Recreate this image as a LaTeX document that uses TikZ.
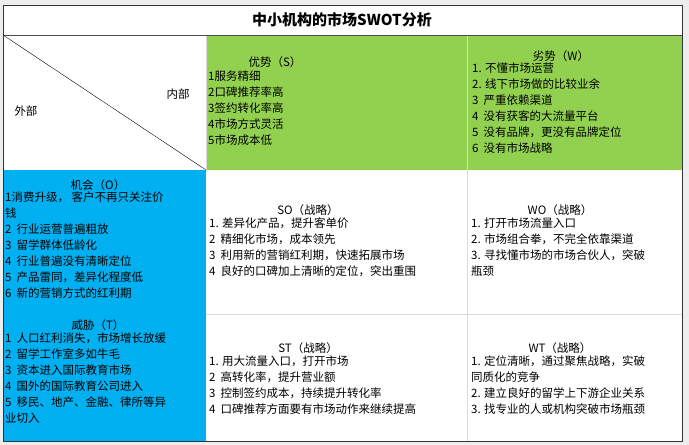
\documentclass[tikz,border=0pt]{standalone}
\usepackage{fontspec}
\setmainfont{Noto Sans CJK SC}
\definecolor{grn}{HTML}{92D050}
\definecolor{blu}{HTML}{00B0F0}
\definecolor{bg}{HTML}{EDEDED}
\definecolor{gl}{HTML}{D9D9D9}
\begin{document}
\begin{tikzpicture}[x=1pt,y=-1pt,
  tx/.style={anchor=north west,inner sep=0pt,align=left,font=\fontsize{11.5}{16}\selectfont},
  tt/.style={anchor=center,inner sep=0pt,font=\fontsize{11.5}{16}\selectfont}]
\fill[bg] (0,0) rectangle (689,445);
\useasboundingbox (0,0) rectangle (689,445);
\fill[white] (3,5) rectangle (682,441);
\fill[grn] (206,35) rectangle (682,170);
\fill[blu] (3,170) rectangle (206,441);
\draw[gl] (467,35) -- (467,441);
\draw[gl] (206,314) -- (682,314);
\draw[gl] (206,35) -- (206,170);
\draw[black!70] (3,35) -- (682,35);
\draw[black] (3,35) -- (206,170);
\draw[black!80,line width=0.8pt] (3,5) rectangle (682,441);
\node[font=\fontsize{15}{18}\selectfont\bfseries] (title) at (342,20) {中小机构的市场SWOT分析};
\node[tt] (nei) at (178,94) {内部};
\node[tt] (wai) at (26,111) {外部};
\node[tt] (st) at (275,62) {优势（S）};
\node[tx] (sl) at (208,71) {1服务精细\\2口碑推荐率高\\3签约转化率高\\4市场方式灵活\\5市场成本低};
\node[tt] (wt) at (561,56) {劣势（W）};
\node[tx] (wl) at (472,63) {1. 不懂市场运营\\2. 线下市场做的比较业余\\3\ \ 严重依赖渠道\\4\ \ 没有获客的大流量平台\\5\ \ 没有品牌，更没有品牌定位\\6\ \ 没有市场战略};
\node[tt] (ot) at (98,185) {机会（O）};
\node[tx] (ol) at (5,192) {1消费升级，\ 客户不再只关注价\\钱\\2\ \ 行业运营普遍粗放\\3\ \ 留学群体低龄化\\4\ \ 行业普遍没有清晰定位\\5\ \ 产品雷同，差异化程度低\\6\ \ 新的营销方式的红利期};
\node[tt] (sot) at (308,210) {SO（战略）};
\node[tx] (sol) at (209,218) {1. 差异化产品，提升客单价\\2\ \ 精细化市场，成本领先\\3\ \ 利用新的营销红利期，快速拓展市场\\4\ \ 良好的口碑加上清晰的定位，突出重围};
\node[tt] (wot) at (560,210) {WO（战略）};
\node[tx] (wol) at (471,218) {1. 打开市场流量入口\\2. 市场组合拳，不完全依靠渠道\\3. 寻找懂市场的市场合伙人，突破\\瓶颈};
\node[tt] (tt1) at (98,325) {威胁（T）};
\node[tx] (tl) at (5,333) {1\ \ 人口红利消失，市场增长放缓\\2\ \ 留学工作室多如牛毛\\3\ \ 资本进入国际教育市场\\4\ \ 国外的国际教育公司进入\\5\ \ 移民、地产、金融、律所等异\\业切入};
\node[tt] (stt) at (308,348) {ST（战略）};
\node[tx] (stl) at (209,356) {1. 用大流量入口，打开市场\\2\ \ 高转化率，提升营业额\\3\ \ 控制签约成本，持续提升转化率\\4\ \ 口碑推荐方面要有市场动作来继续提高};
\node[tt] (wtt) at (560,348) {WT（战略）};
\node[tx] (wtl) at (471,356) {1. 定位清晰，通过聚焦战略，实破\\同质化的竞争\\2. 建立良好的留学上下游企业关系\\3. 找专业的人或机构突破市场瓶颈};
\end{tikzpicture}
\end{document}
